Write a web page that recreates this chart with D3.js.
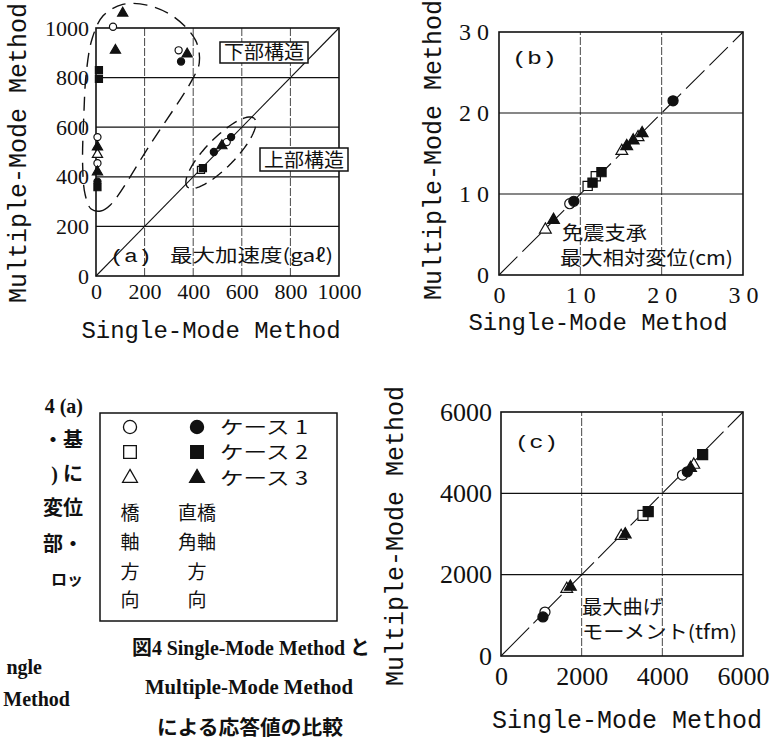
<!DOCTYPE html>
<html><head><meta charset="utf-8">
<script src="https://cdn.jsdelivr.net/npm/d3@7"></script>
<style>body{margin:0;background:#fff} svg{display:block}
.tk text{font-family:'Liberation Serif','DejaVu Serif',serif !important; fill:#111}
</style>
</head><body>
<svg id="c" width="784" height="739"></svg>
<script>
// ---------- data ----------
const ticksA = [0, 200, 400, 600, 800, 1000];
const labelsA = ["0", "200", "400", "600", "800", "1000"];
const ticksB = [0, 10, 20, 30];
const labelsB = ["0", "1 0", "2 0", "3 0"];
const ticksC = [0, 2000, 4000, 6000];
const labelsC = ["0", "2000", "4000", "6000"];

// panel (a) max acceleration (gal)
const aSingle   = [110, 70, 80, 340, 375, 350, 12, 12, 6, 6, 6, 6, 6, 6, 6, 432, 440, 485, 518, 538, 556];
const aMultiple = [1060, 1005, 910, 910, 895, 865, 830, 795, 560, 520, 490, 455, 420, 380, 358, 428, 435, 500, 525, 540, 560];
const aShape    = ["t","c","t","c","t","c","s","s","c","t","t","c","t","c","s","s","s","c","t","c","c"];
const aFill     = [1,0,1,0,1,1,1,1,0,1,0,0,1,1,1,0,1,1,1,0,1];

// panel (b) isolator max relative displacement (cm)
const bSingle   = [21.4, 17.6, 17.1, 16.5, 15.7, 15.1, 11.9, 12.6, 10.9, 11.5, 8.7, 9.2, 5.7, 6.7];
const bMultiple = [21.5, 17.5, 17.0, 16.6, 15.9, 15.3, 12.2, 12.7, 11.0, 11.4, 8.8, 9.1, 5.6, 6.8];
const bShape    = ["c","t","t","t","t","t","s","s","s","s","c","c","t","t"];
const bFill     = [1,1,0,1,1,0,0,1,0,1,0,1,0,1];

// panel (c) max bending moment (tfm)
const cSingle   = [4500, 4620, 4780, 4700, 5000, 3520, 3650, 2980, 3080, 1630, 1720, 1090, 1040];
const cMultiple = [4450, 4530, 4700, 4620, 4950, 3460, 3550, 2950, 2990, 1650, 1700, 1080, 960];
const cShape    = ["c","c","t","t","s","s","s","t","t","t","t","c","c"];
const cFill     = [0,1,0,1,1,0,1,0,1,0,1,0,1];

// dashed group outlines in panel (a) (data coordinates)
const lowerGroupOutline = [[58,285],[20,262],[-20,270],[-45,330],[-55,450],[-50,650],[-40,820],[-15,960],[30,1050],[110,1095],[210,1092],[320,1045],[410,950],[425,860],[395,790],[226,535]];
const upperGroupCenter = [514, 497];
const upperGroupAxes = [195, 60];

const legendCases = ["ケース 1", "ケース 2", "ケース 3"];
const legendShapes = ["c", "s", "t"];
const legendOpenCol = ["橋", "軸", "方", "向"];
const legendFillCol = ["直橋", "角軸", "方", "向"];

// ---------- drawing ----------
const svg = d3.select("#c");
const NUM = "'Liberation Serif','DejaVu Serif',serif";
const MONO = "'Liberation Mono','DejaVu Sans Mono',monospace";
const JP = "'Noto Sans CJK JP',sans-serif";
const CAP = "'Liberation Serif','Noto Sans CJK JP',serif";
const INK = "#111";

function txt(g, x, y, s, o = {}) {
  const t = g.append("text").attr("x", x).attr("y", y).text(s)
    .attr("font-family", o.f || JP).attr("font-size", o.s || 18).attr("fill", INK);
  if (o.w) t.attr("font-weight", o.w);
  if (o.a) t.attr("text-anchor", o.a);
  if (o.len) t.attr("textLength", o.len).attr("lengthAdjust", "spacingAndGlyphs");
  if (o.rot) t.attr("transform", `rotate(${o.rot},${x},${y})`);
  return t;
}
function symPath(shape, sizes) {
  const type = shape === "c" ? d3.symbolCircle : shape === "s" ? d3.symbolSquare : d3.symbolTriangle;
  const sz = shape === "c" ? sizes.c : shape === "s" ? sizes.s : sizes.t;
  return d3.symbol().type(type).size(sz)();
}

function panel(cfg) {
  const g = svg.append("g");
  const x = d3.scaleLinear().domain(cfg.domain).range([cfg.x0, cfg.x1]);
  const y = d3.scaleLinear().domain(cfg.domain).range([cfg.y0, cfg.y1]);
  const inner = cfg.ticks.slice(1, -1);
  g.selectAll("line.vg").data(inner).join("line").attr("class", "vg")
    .attr("x1", d => x(d)).attr("x2", d => x(d)).attr("y1", cfg.y0).attr("y2", cfg.y1)
    .attr("stroke", "#333").attr("stroke-width", 0.9).attr("stroke-dasharray", "8 2");
  g.selectAll("line.hg").data(inner).join("line").attr("class", "hg")
    .attr("y1", d => y(d)).attr("y2", d => y(d)).attr("x1", cfg.x0).attr("x2", cfg.x1)
    .attr("stroke", INK).attr("stroke-width", 1.2);
  g.append("line").attr("x1", x(cfg.domain[0])).attr("y1", y(cfg.domain[0]))
    .attr("x2", x(cfg.domain[1])).attr("y2", y(cfg.domain[1]))
    .attr("stroke", INK).attr("stroke-width", 1.1)
    .attr("stroke-dasharray", cfg.diagDash || null);
  g.append("rect").attr("x", cfg.x0).attr("y", cfg.y1).attr("width", cfg.x1 - cfg.x0).attr("height", cfg.y0 - cfg.y1)
    .attr("fill", "none").attr("stroke", INK).attr("stroke-width", 1.6);
  const ax = g.append("g").attr("class", "tk").attr("transform", `translate(0,${cfg.y0})`)
    .call(d3.axisBottom(x).tickValues(cfg.ticks).tickFormat((d, i) => cfg.labels[i]).tickSize(0).tickPadding(cfg.padX));
  const ay = g.append("g").attr("class", "tk").attr("transform", `translate(${cfg.x0},0)`)
    .call(d3.axisLeft(y).tickValues(cfg.ticks).tickFormat((d, i) => cfg.labels[i]).tickSize(0).tickPadding(cfg.padY));
  [ax, ay].forEach(a => {
    a.select(".domain").remove();
    a.attr("font-family", NUM).attr("font-size", cfg.fs);
    a.selectAll("text").attr("font-family", NUM).attr("font-size", cfg.fs).attr("fill", INK);
  });
  return { g, x, y };
}

function points(p, xs, ys, shapes, fills, sizes) {
  const idx = d3.range(xs.length).sort((i, j) => fills[i] - fills[j]);
  p.g.selectAll("path.pt").data(idx).join("path").attr("class", "pt")
    .attr("transform", i => `translate(${p.x(xs[i])},${p.y(ys[i])})`)
    .attr("d", i => symPath(shapes[i], sizes))
    .attr("fill", i => fills[i] ? INK : "#fff")
    .attr("stroke", INK).attr("stroke-width", 1.2);
}

// ---- panel (a)
const pa = panel({ domain: [0, 1000], ticks: ticksA, labels: labelsA, x0: 96, x1: 339, y0: 276, y1: 28, padX: 7, padY: 7, fs: 22 });
pa.g.append("path")
  .attr("d", d3.line().x(d => pa.x(d[0])).y(d => pa.y(d[1])).curve(d3.curveCatmullRomClosed.alpha(0.5))(lowerGroupOutline))
  .attr("fill", "none").attr("stroke", INK).attr("stroke-width", 1.4).attr("stroke-dasharray", "14 8");
const ell = d3.range(0, 73).map(k => {
  const t = k / 72 * 2 * Math.PI, r = Math.SQRT1_2;
  const a = upperGroupAxes[0] * Math.cos(t), b = upperGroupAxes[1] * Math.sin(t);
  return [upperGroupCenter[0] + (a - b) * r, upperGroupCenter[1] + (a + b) * r];
});
pa.g.append("path")
  .attr("d", d3.line().x(d => pa.x(d[0])).y(d => pa.y(d[1]))(ell))
  .attr("fill", "none").attr("stroke", INK).attr("stroke-width", 1.4).attr("stroke-dasharray", "12 7");
points(pa, aSingle, aMultiple, aShape, aFill, { c: 40, s: 50, t: 45 });
pa.g.append("rect").attr("x", 220).attr("y", 42).attr("width", 88).attr("height", 21).attr("fill", "#fff").attr("stroke", INK).attr("stroke-width", 1.5);
txt(pa.g, 224, 59, "下部構造", { s: 19, len: 80 });
pa.g.append("rect").attr("x", 260).attr("y", 148).attr("width", 88).attr("height", 23).attr("fill", "#fff").attr("stroke", INK).attr("stroke-width", 1.5);
txt(pa.g, 264, 167, "上部構造", { s: 19, len: 80 });
txt(pa.g, 110, 262, "(a)", { f: MONO, s: 18, len: 42 });
txt(pa.g, 170, 262, "最大加速度(gaℓ)", { s: 18, len: 163 });
txt(svg, 26, 153, "Multiple-Mode Method", { f: MONO, s: 25, a: "middle", rot: -90 });
txt(svg, 211, 338, "Single-Mode Method", { f: MONO, s: 24, a: "middle" });

// ---- panel (b)
const pb = panel({ domain: [0, 30], ticks: ticksB, labels: labelsB, x0: 499, x1: 743, y0: 275, y1: 32, padX: 11, padY: 10, fs: 24, diagDash: "26 7" });
points(pb, bSingle, bMultiple, bShape, bFill, { c: 80, s: 85, t: 60 });
txt(pb.g, 512, 64, "(b)", { f: MONO, s: 18, len: 45 });
txt(pb.g, 562, 240, "免震支承", { s: 19, len: 85 });
txt(pb.g, 560, 265, "最大相対変位(cm)", { s: 19, len: 173 });
txt(svg, 441, 150, "Multiple-Mode Method", { f: MONO, s: 25, a: "middle", rot: -90 });
txt(svg, 598, 330, "Single-Mode Method", { f: MONO, s: 24, a: "middle" });

// ---- panel (c)
const pc = panel({ domain: [0, 6000], ticks: ticksC, labels: labelsC, x0: 501, x1: 743, y0: 656, y1: 412, padX: 11, padY: 9, fs: 26, diagDash: "40 6" });
points(pc, cSingle, cMultiple, cShape, cFill, { c: 80, s: 100, t: 60 });
txt(pc.g, 515, 448, "(c)", { f: MONO, s: 18, len: 43 });
txt(pc.g, 582, 614, "最大曲げ", { s: 19, len: 81 });
txt(pc.g, 582, 639, "モーメント(tfm)", { s: 19, len: 155 });
txt(svg, 403, 536, "Multiple-Mode Method", { f: MONO, s: 25, a: "middle", rot: -90 });
txt(svg, 627, 728, "Single-Mode Method", { f: MONO, s: 25, a: "middle" });

// ---- legend
const lg = svg.append("g");
lg.append("rect").attr("x", 100).attr("y", 413).attr("width", 237).attr("height", 208).attr("fill", "#fff").attr("stroke", INK).attr("stroke-width", 1.5);
const legRowY = [427, 452, 478];
const legSizes = { c: 135, s: 160, t: 95 };
legendShapes.forEach((s, i) => {
  lg.append("path").attr("transform", `translate(130,${legRowY[i]})`).attr("d", symPath(s, legSizes)).attr("fill", "#fff").attr("stroke", INK).attr("stroke-width", 1.3);
  lg.append("path").attr("transform", `translate(197,${legRowY[i]})`).attr("d", symPath(s, legSizes)).attr("fill", INK).attr("stroke", INK).attr("stroke-width", 1.3);
  txt(lg, 220, legRowY[i] + 7, legendCases[i], { s: 18, len: 88 });
});
const legColY = [513, 542, 572, 600];
legendOpenCol.forEach((s, i) => txt(lg, 130, legColY[i] + 7, s, { s: 19, a: "middle" }));
legendFillCol.forEach((s, i) => txt(lg, 197, legColY[i] + 7, s, { s: 19, a: "middle" }));

// ---- caption and cut-off body text
txt(svg, 132, 655, "図4 Single-Mode Method と", { f: CAP, s: 20, w: "bold", len: 238 });
txt(svg, 145, 694, "Multiple-Mode Method", { f: CAP, s: 20, w: "bold", len: 208 });
txt(svg, 157, 735, "による応答値の比較", { f: CAP, s: 20, w: "bold", len: 186 });
const bodyFrag = ["4 (a)", "・基", ") に", "変位", "部・", "ロッ"];
const bodyY = [413, 447, 481, 515, 551, 585];
bodyFrag.forEach((s, i) => txt(svg, 83, bodyY[i], s, { f: CAP, s: i === 5 ? 16 : 20, w: "bold", a: "end" }));
txt(svg, 42, 674, "ngle", { f: CAP, s: 20, w: "bold", a: "end" });
txt(svg, 70, 706, "Method", { f: CAP, s: 20, w: "bold", a: "end" });
</script>
</body></html>
